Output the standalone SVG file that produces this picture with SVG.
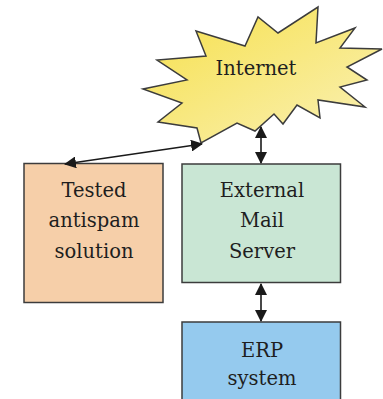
<svg xmlns="http://www.w3.org/2000/svg" width="383" height="399" viewBox="0 0 383 399">
  <defs>
    <linearGradient id="burstFill" x1="0" y1="0" x2="1" y2="1">
      <stop offset="0" stop-color="#f6e04a"/>
      <stop offset="1" stop-color="#faf1b8"/>
    </linearGradient>
    <marker id="arrowHead" viewBox="0 0 12 12" refX="11" refY="6" markerWidth="12" markerHeight="12" markerUnits="userSpaceOnUse" orient="auto-start-reverse">
      <path d="M0,0 L12,6 L0,12 z" fill="#1a1a1a"/>
    </marker>
  </defs>
  <style>
    .box { stroke: #3c3c3c; stroke-width: 1.5; }
    .label { font-family: "DejaVu Serif", "Liberation Serif", serif; font-size: 19.5px; fill: #1e1e1e; text-anchor: middle; }
    .link { stroke: #1a1a1a; stroke-width: 1.6; fill: none; marker-start: url(#arrowHead); marker-end: url(#arrowHead); }
  </style>
  <rect width="383" height="399" fill="#ffffff"/>

  <g id="internet">
    <polygon fill="url(#burstFill)" stroke="#3c3c3c" stroke-width="1.5" stroke-linejoin="miter"
      points="196,31 245,46 258,17 278,33 318,7 316,43 355,28 340,48 382,49 347,67 367,80 340,87 365,107 318,100 320,118 297,105 283,124 274,114 255,131 237,123 201,143 197,128 158,122 182,103 143,89 187,80 157,60 206,56"/>
    <text class="label" x="256" y="75">Internet</text>
  </g>

  <g id="antispam">
    <rect class="box" x="24" y="163.5" width="139" height="139" fill="#f6cfa9"/>
    <text class="label" x="94" y="197">Tested</text>
    <text class="label" x="94" y="227">antispam</text>
    <text class="label" x="94" y="258">solution</text>
  </g>

  <g id="mail-server">
    <rect class="box" x="182" y="164" width="158.5" height="118.5" fill="#c9e6d4"/>
    <text class="label" x="262" y="197">External</text>
    <text class="label" x="262" y="227">Mail</text>
    <text class="label" x="262" y="258">Server</text>
  </g>

  <g id="erp">
    <rect class="box" x="182" y="322" width="158.5" height="90" fill="#95caee"/>
    <text class="label" x="262" y="357">ERP</text>
    <text class="label" x="262" y="385">system</text>
  </g>

  <g id="connectors">
    <line class="link" x1="65" y1="164" x2="202" y2="144"/>
    <line class="link" x1="261" y1="127" x2="261" y2="163"/>
    <line class="link" x1="261" y1="284" x2="261" y2="321"/>
  </g>
</svg>
